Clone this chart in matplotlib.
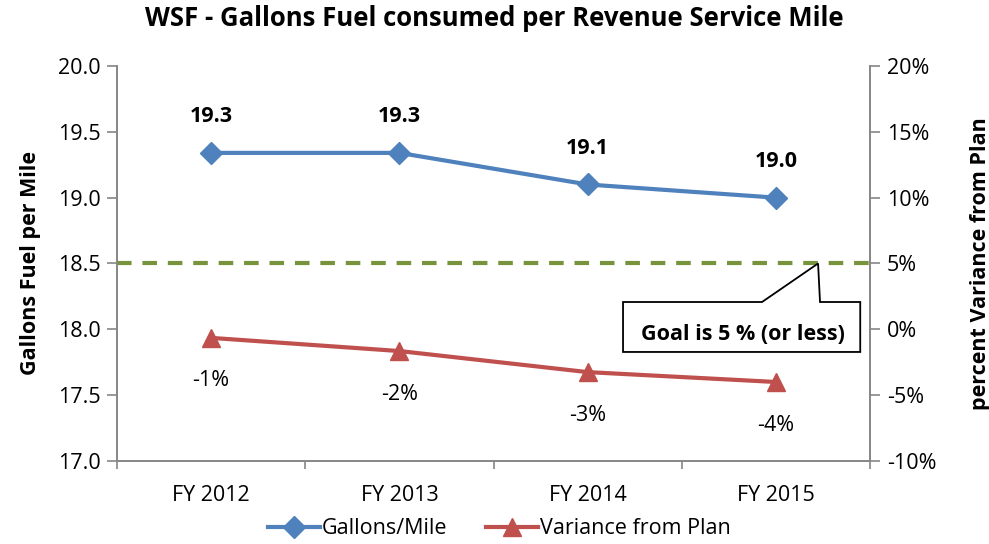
import matplotlib
matplotlib.use("Agg")
import matplotlib.pyplot as plt
from matplotlib.patches import Polygon
from matplotlib.lines import Line2D

plt.rcParams["font.family"] = ["Open Sans", "DejaVu Sans"]

# -- data --
years = ["FY 2012", "FY 2013", "FY 2014", "FY 2015"]
gallons_per_mile = [19.34, 19.34, 19.10, 19.00]
gallons_labels = ["19.3", "19.3", "19.1", "19.0"]
variance_pct = [-0.65, -1.65, -3.25, -4.0]
variance_labels = ["-1%", "-2%", "-3%", "-4%"]
goal_pct = 5

BLUE = "#4F81BD"
RED = "#C0504D"
GREEN = "#77933C"
GREY = "#868686"
FS = 15.5

fig = plt.figure(figsize=(9.89, 5.44), dpi=100)
ax = fig.add_axes([0.1183, 0.1526, 0.7614, 0.7261])
ax2 = ax.twinx()

x = list(range(len(years)))

# -- goal line (right axis) --
ax2.axhline(goal_pct, color=GREEN, lw=3, ls=(0, (3.5, 2.6)), zorder=1)

# -- series --
ax.plot(x, gallons_per_mile, color=BLUE, lw=3, marker="D", markersize=11,
        zorder=3)
ax2.plot(x, variance_pct, color=RED, lw=3, marker="^", markersize=13,
         zorder=3)

for xi, v, lab in zip(x, gallons_per_mile, gallons_labels):
    ax.annotate(lab, (xi, v), textcoords="offset points", xytext=(0, 26),
                ha="center", va="center", fontsize=FS, fontweight="bold")
for xi, v, lab in zip(x, variance_pct, variance_labels):
    ax2.annotate(lab, (xi, v), textcoords="offset points", xytext=(0, -31),
                 ha="center", va="center", fontsize=FS)

# -- axes styling --
ax.set_xlim(-0.5, len(years) - 0.5)
ax.set_ylim(17.0, 20.0)
ax.set_yticks([17.0, 17.5, 18.0, 18.5, 19.0, 19.5, 20.0])
ax.set_yticklabels([f"{t:.1f}" for t in ax.get_yticks()])
ax2.set_ylim(-10, 20)
ax2.set_yticks(range(-10, 21, 5))
ax2.set_yticklabels([f"{t}%" for t in range(-10, 21, 5)])

ax.set_xticks(x)
ax.set_xticklabels(years)
ax.set_xticks([i - 0.5 for i in range(len(years) + 1)], minor=True)
ax.tick_params(axis="x", which="major", length=0, pad=17, labelsize=FS)
ax.tick_params(axis="x", which="minor", length=6, width=1.2, color=GREY,
               direction="out")
ax.tick_params(axis="y", length=7, width=1.2, color=GREY, labelsize=FS,
               pad=5)
ax2.tick_params(axis="y", length=7, width=1.2, color=GREY, labelsize=FS,
                pad=5)

for a in (ax, ax2):
    a.spines["top"].set_visible(False)
    for s in ("left", "right", "bottom"):
        a.spines[s].set_color(GREY)
        a.spines[s].set_linewidth(1.2)

ax.set_ylabel("Gallons Fuel per Mile", fontsize=FS, fontweight="bold",
              labelpad=12)
ax2.set_ylabel("percent Variance from Plan", fontsize=FS, fontweight="bold",
               labelpad=24)

fig.suptitle("WSF - Gallons Fuel consumed per Revenue Service Mile",
             fontsize=18.5, fontweight="bold", y=0.99)

# -- callout pointing at the goal line --
ylo, yhi = ax2.get_ylim()
goal_frac = (goal_pct - ylo) / (yhi - ylo)
box_l, box_r, box_b, box_t = 0.672, 0.987, 0.276, 0.4025
callout = Polygon(
    [(box_l, box_t), (0.8566, box_t), (0.931, goal_frac), (0.9336, box_t),
     (box_r, box_t), (box_r, box_b), (box_l, box_b)],
    closed=True, transform=ax.transAxes, facecolor="white",
    edgecolor="black", lw=1.3, zorder=5, clip_on=False)
ax2.add_patch(callout)
ax2.text((box_l + box_r) / 2 + 0.002, (box_t + box_b) / 2 - 0.02,
         "Goal is 5 % (or less)", transform=ax.transAxes, ha="center",
         va="center", fontsize=FS, fontweight="bold", zorder=6)

# -- legend --
handles = [
    Line2D([], [], color=BLUE, lw=3, marker="D", markersize=11),
    Line2D([], [], color=RED, lw=3, marker="^", markersize=13),
]
fig.legend(handles, ["Gallons/Mile", "Variance from Plan"], loc="center",
           bbox_to_anchor=(0.505, 0.028), ncol=2, frameon=False, fontsize=FS,
           handlelength=2.4, handletextpad=0.1, columnspacing=1.8)

fig.savefig("out.png", dpi=100)
